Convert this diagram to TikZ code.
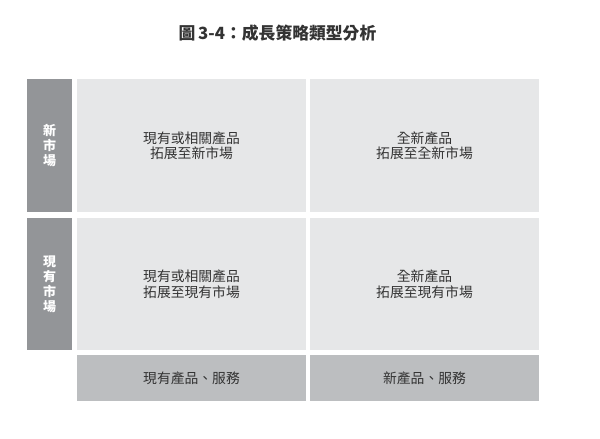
\documentclass[tikz,border=0pt]{standalone}
\usepackage{fontspec}
\newfontfamily\cjk{Noto Sans CJK TC}
\definecolor{cellc}{HTML}{E6E7E8}
\definecolor{sidec}{HTML}{939598}
\definecolor{botc}{HTML}{BCBEC0}
\definecolor{txtc}{HTML}{333333}
\begin{document}
\begin{tikzpicture}[x=1pt,y=-1pt,
  cell/.style={fill=cellc,draw=none,inner sep=0pt,text=txtc,align=center,font=\cjk\fontsize{13.8}{15.5}\selectfont},
  side/.style={fill=sidec,draw=none,inner sep=0pt,text=white,align=center,font=\cjk\bfseries\fontsize{13}{15}\selectfont},
  bot/.style={fill=botc,draw=none,inner sep=0pt,text=txtc,align=center,font=\cjk\fontsize{13.8}{16}\selectfont}]
\useasboundingbox[fill=white] (0,0) rectangle (600,439);
\node[font=\cjk\bfseries\fontsize{16.8}{18}\selectfont,text=txtc] (title) at (277.5,33) {圖\,3-4：成長策略類型分析};
% side bars
\node[side,minimum width=45pt,minimum height=133pt] (s1) at (49.5,145.5) {新\\市\\場};
\node[side,minimum width=45pt,minimum height=132pt] (s2) at (49.5,284) {現\\有\\市\\場};
% cells
\node[cell,minimum width=229pt,minimum height=133pt] (c11) at (191.5,145.5) {現有或相關產品\\拓展至新市場};
\node[cell,minimum width=229pt,minimum height=133pt] (c12) at (424.5,145.5) {全新產品\\拓展至全新市場};
\node[cell,minimum width=229pt,minimum height=132pt] (c21) at (191.5,284) {現有或相關產品\\拓展至現有市場};
\node[cell,minimum width=229pt,minimum height=132pt] (c22) at (424.5,284) {全新產品\\拓展至現有市場};
% bottom
\node[bot,minimum width=229pt,minimum height=46pt] (b1) at (191.5,378) {現有產品、服務};
\node[bot,minimum width=229pt,minimum height=46pt] (b2) at (424.5,378) {新產品、服務};
\end{tikzpicture}
\end{document}
